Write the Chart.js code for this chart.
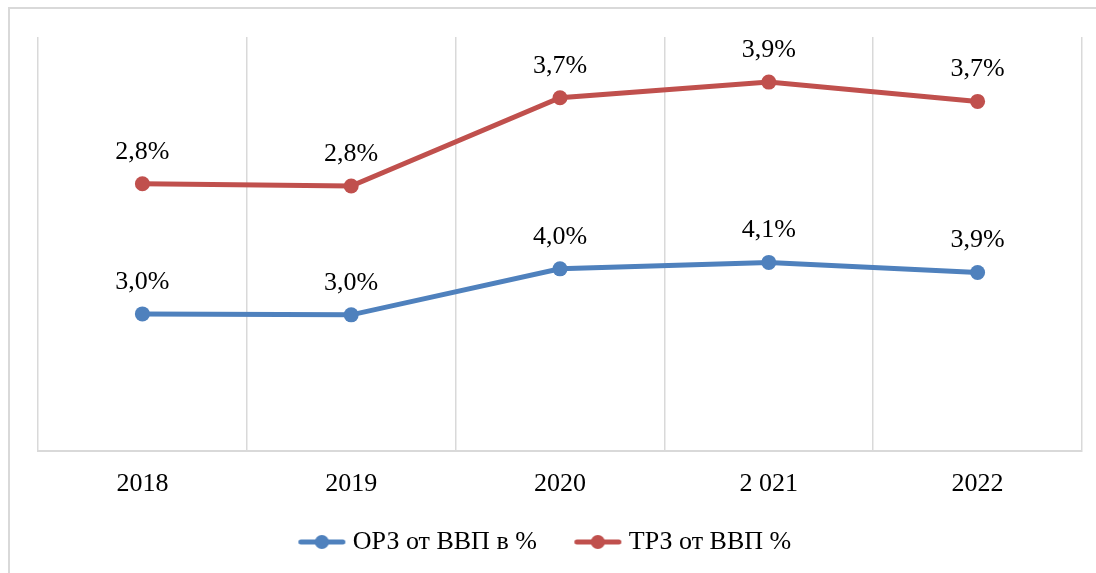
<!DOCTYPE html>
<html>
<head>
<meta charset="utf-8">
<script src="https://cdn.jsdelivr.net/npm/chart.js@4"></script>
<style>
  html, body { margin: 0; padding: 0; background: #fff; overflow: hidden; }
  #wrap { position: absolute; left: 0; top: 0; width: 1096px; height: 573px; }
</style>
</head>
<body>
<div id="wrap"><canvas id="myChart"></canvas></div>
<script>
const years = ["2018", "2019", "2020", "2 021", "2022"];
const orzValues = [2.98, 2.96, 3.96, 4.1, 3.88];
const trzValues = [2.83, 2.8, 3.72, 3.92, 3.72];
const seriesNames = ["ОРЗ от ВВП в %", "ТРЗ от ВВП %"];
const seriesColors = ["#4f81bd", "#c0504d"];

const FONT = '"Liberation Serif", "Times New Roman", serif';

function fmt(v) {
  return v.toFixed(1).replace(".", ",") + "%";
}

// legend marker: short line with a dot, placed a bit off-centre in a wide transparent canvas
function marker(color) {
  const c = document.createElement("canvas");
  c.width = 100;
  c.height = 16;
  const g = c.getContext("2d");
  const x0 = 32.5;
  g.strokeStyle = color;
  g.lineWidth = 5;
  g.lineCap = "round";
  g.beginPath();
  g.moveTo(x0 + 3, 8);
  g.lineTo(x0 + 45, 8);
  g.stroke();
  g.fillStyle = color;
  g.beginPath();
  g.arc(x0 + 24, 8, 7, 0, Math.PI * 2);
  g.fill();
  return c;
}

// outer chart frame (only left and top edges are inside the picture)
const frame = {
  id: "frame",
  beforeDraw(chart) {
    const ctx = chart.ctx;
    ctx.save();
    ctx.strokeStyle = "#d9d9d9";
    ctx.lineWidth = 2;
    ctx.beginPath();
    ctx.moveTo(9, chart.height);
    ctx.lineTo(9, 8);
    ctx.lineTo(chart.width, 8);
    ctx.stroke();
    ctx.restore();
  },
};

const valueLabels = {
  id: "valueLabels",
  afterDatasetsDraw(chart) {
    const ctx = chart.ctx;
    ctx.save();
    ctx.font = "26px " + FONT;
    ctx.fillStyle = "#000";
    ctx.textAlign = "center";
    ctx.textBaseline = "middle";
    chart.data.datasets.forEach((ds, i) => {
      chart.getDatasetMeta(i).data.forEach((pt, j) => {
        ctx.fillText(fmt(ds.data[j]), pt.x, pt.y - 32);
      });
    });
    ctx.restore();
  },
};

var ctx = document.getElementById("myChart").getContext("2d");
var myChart = new Chart(ctx, {
  type: "line",
  data: {
    labels: years,
    datasets: [
      {
        label: seriesNames[0],
        data: orzValues,
        borderColor: seriesColors[0],
        backgroundColor: seriesColors[0],
      },
      {
        label: seriesNames[1],
        data: trzValues,
        borderColor: seriesColors[1],
        backgroundColor: seriesColors[1],
      },
    ],
  },
  options: {
    responsive: true,
    maintainAspectRatio: false,
    animation: false,
    layout: { padding: { left: 0, right: 14, top: 37, bottom: 8 } },
    elements: {
      line: { borderWidth: 5, tension: 0 },
      point: { radius: 7.5, borderWidth: 0, hoverRadius: 7.5 },
    },
    scales: {
      x: {
        offset: true,
        grid: { display: true, offset: true, color: "#d9d9d9", lineWidth: 1.5, drawTicks: false },
        border: { display: true, color: "#d9d9d9", width: 2 },
        ticks: { color: "#000", padding: 18, font: { family: FONT, size: 26 } },
        afterFit(scale) {
          scale.height = 48;
        },
      },
      y: {
        stacked: true,
        min: 0,
        max: 9,
        grid: { display: false },
        border: { display: false },
        ticks: { display: false },
        afterFit(scale) {
          scale.width = 38;
        },
      },
    },
    plugins: {
      tooltip: { enabled: false },
      legend: {
        position: "bottom",
        labels: {
          color: "#000",
          font: { family: FONT, size: 26 },
          usePointStyle: true,
          pointStyleWidth: 49,
          padding: 30,
          generateLabels(chart) {
            return chart.data.datasets.map((ds, i) => ({
              text: ds.label,
              pointStyle: marker(seriesColors[i]),
              fillStyle: seriesColors[i],
              strokeStyle: seriesColors[i],
              lineWidth: 0,
              fontColor: "#000",
              hidden: false,
              datasetIndex: i,
            }));
          },
        },
      },
    },
  },
  plugins: [frame, valueLabels],
});
</script>
</body>
</html>
